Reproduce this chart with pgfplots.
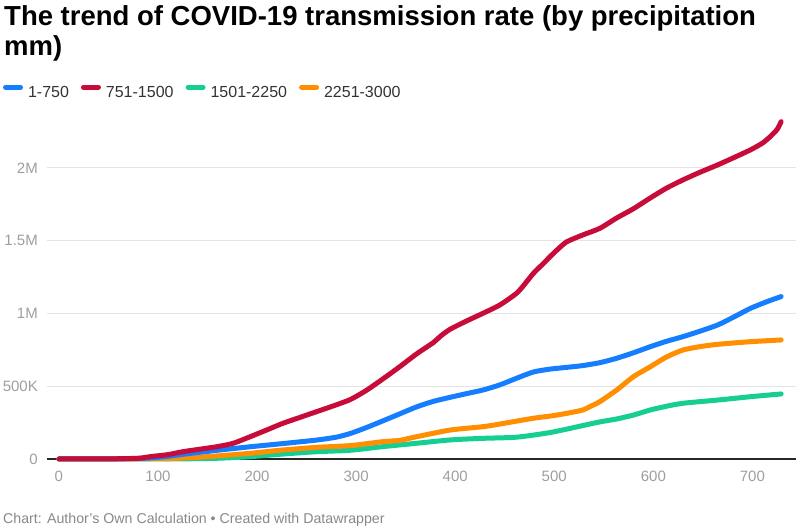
\documentclass[border=0pt]{standalone}
\usepackage{fontspec}
\setmainfont{Liberation Sans}
\usepackage{pgfplots}
\usepackage{pgfplotstable}
\pgfplotsset{compat=1.18}
\definecolor{cblue}{RGB}{20,126,255}
\definecolor{cred}{RGB}{200,12,58}
\definecolor{cgreen}{RGB}{22,206,146}
\definecolor{corange}{RGB}{255,142,0}
\definecolor{gridc}{RGB}{228,228,228}
\definecolor{tickc}{RGB}{158,158,158}
\definecolor{footc}{RGB}{136,136,136}
\definecolor{legc}{RGB}{51,51,51}

% x = day, y = thousands
\pgfplotstableread{
x y
0 0
60 1
90 6
110 18
125 32
145 48
160 60
193 84
226 106
260 130
280 150
294 175
310 215
327 262
344 310
361 358
378 396
395 424
412 450
428 474
445 509
462 555
479 598
496 618
513 630
529 642
546 662
563 692
580 730
597 772
613 808
630 841
647 878
665 921
681 975
698 1035
715 1082
729 1116
}\tblblue

\pgfplotstableread{
x y
0 0
50 1
80 5
92 16
110 30
125 50
145 70
160 85
176 108
193 153
210 200
226 245
243 285
260 325
277 365
294 408
310 470
327 550
344 634
361 722
378 800
385 843
395 892
412 950
428 1001
445 1058
462 1139
470 1200
479 1276
490 1350
496 1392
505 1450
513 1494
529 1540
546 1585
563 1656
580 1720
597 1794
613 1860
630 1918
647 1970
665 2021
681 2070
698 2124
710 2170
718 2215
725 2265
729 2318
}\tblred

\pgfplotstableread{
x y
0 0
120 1
160 5
193 16
226 34
260 50
294 60
327 85
361 108
395 131
428 142
462 150
496 182
529 230
546 255
563 275
580 302
597 337
613 362
630 383
665 405
698 428
729 447
}\tblgreen

\pgfplotstableread{
x y
0 0
100 2
130 8
160 21
193 39
226 62
260 80
294 92
327 119
344 128
361 153
395 199
428 222
445 240
479 280
496 295
513 314
529 337
536 360
546 394
563 474
580 566
597 634
613 700
630 749
647 772
665 788
698 806
729 818
}\tblorange

\begin{document}
\begin{tikzpicture}
\useasboundingbox (0,0) rectangle (796pt,530pt);
\node[anchor=base west, inner sep=0pt, font=\fontsize{27.5}{30}\selectfont\bfseries] at (4pt,504pt) {The trend of COVID-19 transmission rate (by precipitation};
\node[anchor=base west, inner sep=0pt, font=\fontsize{27.5}{30}\selectfont\bfseries] at (4pt,474pt) {mm)};
\node[anchor=base west, inner sep=0pt, font=\fontsize{14.2}{16}\selectfont, text=footc] at (3pt,6pt) {Chart: Author's Own Calculation • Created with Datawrapper};
\begin{axis}[
  at={(47pt,71pt)}, anchor=south west,
  scale only axis, width=749pt, height=342pt,
  xmin=-12, xmax=744, ymin=0, ymax=2350,
  clip=false,
  axis line style={draw=none},
  major tick length=0pt,
  tick style={draw=none},
  xtick={0,100,...,700},
  ytick={500,1000,1500,2000},
  yticklabels={500K,1M,1.5M,2M},
  extra y ticks={0},
  extra y tick labels={0},
  extra y tick style={grid style={black!85, line width=1.4pt}},
  ymajorgrids,
  grid style={gridc, line width=1.1pt},
  scaled y ticks=false,
  /pgf/number format/assume math mode=true,
  ticklabel style={font=\fontsize{15}{17}\selectfont, text=tickc},
  yticklabel style={anchor=east, inner sep=0pt, xshift=-9pt},
  xticklabel style={anchor=north, inner sep=0pt, yshift=-11.5pt},
  legend style={at={(-0.0587,1.0731)}, anchor=west, draw=none, fill=none,
    legend columns=-1, inner sep=0pt, outer sep=0pt,
    nodes={inner sep=0pt, text=legc, font=\fontsize{16}{18}\selectfont},
    /tikz/every odd column/.append style={column sep=5pt},
    /tikz/every even column/.append style={column sep=12pt}},
  legend image code/.code={\path[draw=none] (0pt,0pt) -- (20pt,0pt); \draw[#1, line width=5pt, line cap=round] (2.5pt,5.7pt) -- (17.5pt,5.7pt);},
]
\addlegendimage{cblue}
\addlegendimage{cred}
\addlegendimage{cgreen}
\addlegendimage{corange}
\legend{1-750,751-1500,1501-2250,2251-3000}
\addplot[cgreen, line width=5pt, line cap=round, line join=round, smooth, tension=0.4, forget plot] table {\tblgreen};
\addplot[corange, line width=5pt, line cap=round, line join=round, smooth, tension=0.4, forget plot] table {\tblorange};
\addplot[cblue, line width=5pt, line cap=round, line join=round, smooth, tension=0.4, forget plot] table {\tblblue};
\addplot[cred, line width=5pt, line cap=round, line join=round, smooth, tension=0.4, forget plot] table {\tblred};
\end{axis}
\end{tikzpicture}
\end{document}
